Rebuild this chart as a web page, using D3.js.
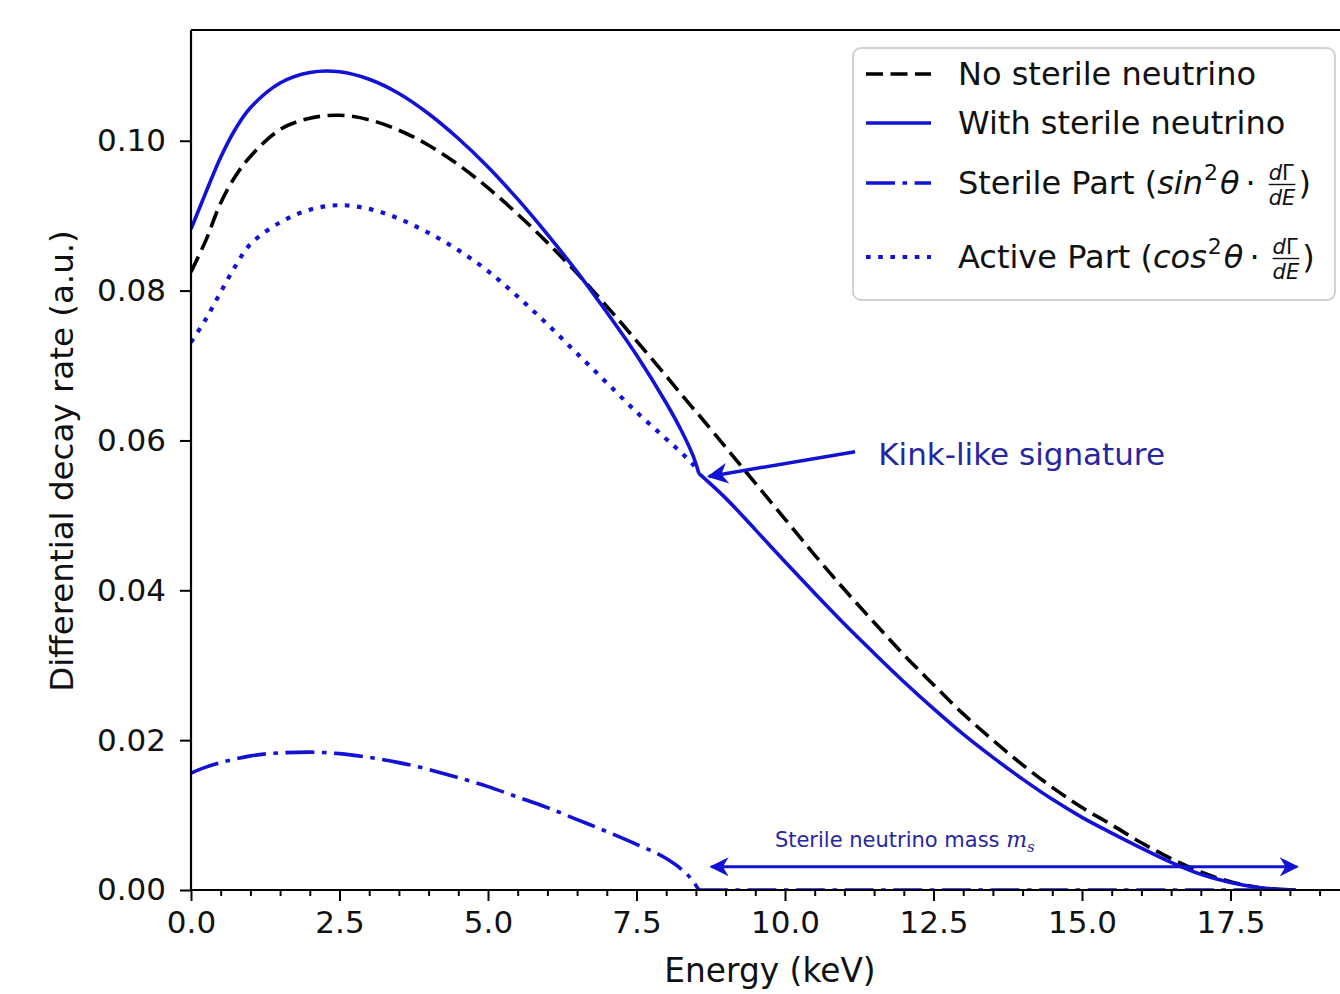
<!DOCTYPE html>
<html>
<head>
<meta charset="utf-8">
<script src="https://cdn.jsdelivr.net/npm/d3@7"></script>
<style>
  html, body { margin: 0; padding: 0; background: #fff; }
  svg { display: block; }
  text { font-family: "DejaVu Sans", sans-serif; }
</style>
</head>
<body>
<svg id="chart" width="1340" height="994"></svg>
<script>
// ---------- data ----------
const energy = [0, 0.25, 0.5, 0.75, 1, 1.5, 2, 2.5, 3, 3.5, 4, 4.5, 5, 5.5, 6, 6.5, 7, 7.5, 8,
  8.25, 8.45, 8.55, 9, 9.5, 10, 10.5, 11, 11.5, 12, 12.5, 13, 13.5, 14, 14.5, 15, 15.5, 16,
  16.5, 17, 17.5, 18, 18.3, 18.6];

const kinkEnergy = 8.55;

const noSterile = [0.0825, 0.0867, 0.0917, 0.0953, 0.0979, 0.1015, 0.1030, 0.1034, 0.1028, 0.1014,
  0.0994, 0.0968, 0.0937, 0.0902, 0.0864, 0.0823, 0.0779, 0.0733, 0.0686,
  0.0662, 0.0643, 0.0634, 0.0591, 0.0543, 0.0495, 0.0447, 0.0401, 0.0357, 0.0314, 0.0274,
  0.0235, 0.0200, 0.0167, 0.0137, 0.0110, 0.0087, 0.0063, 0.0042, 0.0024, 0.0011, 0.0003,
  0.0001, 0.0000];

const withSterile = [0.0882, 0.0931, 0.0978, 0.1016, 0.1044, 0.1077, 0.1091, 0.1092, 0.1082, 0.1063,
  0.1036, 0.1003, 0.0965, 0.0922, 0.0875, 0.0825, 0.0771, 0.0714, 0.0650,
  0.0614, 0.0580, 0.0556, 0.0523, 0.0481, 0.0438, 0.0396, 0.0355, 0.0316, 0.0278, 0.0242,
  0.0208, 0.0177, 0.0148, 0.0121, 0.0097, 0.0076, 0.0056, 0.0037, 0.0021, 0.0010, 0.0003,
  0.0001, 0.0000];

const activePart = [0.0731, 0.0762, 0.0798, 0.0833, 0.0862, 0.0891, 0.0908, 0.0914, 0.0909, 0.0896,
  0.0877, 0.0854, 0.0826, 0.0792, 0.0755, 0.0716, 0.0677, 0.0638, 0.0602,
  0.0584, 0.0568, 0.0558, null, null, null, null, null, null, null, null,
  null, null, null, null, null, null, null, null, null, null, null, null, null];

const sterilePart = [0.0156, 0.0164, 0.0170, 0.0175, 0.0179, 0.0183, 0.0184, 0.0182, 0.0177, 0.0170,
  0.0161, 0.0150, 0.0138, 0.0124, 0.0110, 0.0094, 0.0078, 0.0061, 0.0042,
  0.0028, 0.0012, 0.0000, 0, 0, 0, 0, 0, 0, 0, 0,
  0, 0, 0, 0, 0, 0, 0, 0, 0, 0, 0, 0, 0];

const xMajorTicks = [0, 2.5, 5, 7.5, 10, 12.5, 15, 17.5];
const xMinorTicks = d3.range(0, 19.51, 0.5);
const yTicks = [0, 0.02, 0.04, 0.06, 0.08, 0.10];
const xTickLabels = ["0.0", "2.5", "5.0", "7.5", "10.0", "12.5", "15.0", "17.5"];
const yTickLabels = ["0.00", "0.02", "0.04", "0.06", "0.08", "0.10"];

const xTitle = "Energy (keV)";
const yTitle = "Differential decay rate (a.u.)";

// ---------- layout ----------
const svg = d3.select("#chart");
const plotLeft = 191, plotTop = 30, plotBottom = 890;
const pxPerKeV = 59.4;
const xMax = 19.6;
const x = d3.scaleLinear().domain([0, xMax]).range([plotLeft, plotLeft + xMax * pxPerKeV]);
const y = d3.scaleLinear().domain([0, 0.11478]).range([plotBottom, plotTop]);

const BLUE = "#1212d4";
const ANN = "#2626a0";
const LW = 3.6;

const defs = svg.append("defs");
defs.append("clipPath").attr("id", "plotclip")
  .append("rect").attr("x", plotLeft).attr("y", plotTop).attr("width", x(xMax) - plotLeft).attr("height", plotBottom - plotTop);

const rows = energy.map((e, i) => ({e, ns: noSterile[i], ws: withSterile[i], ap: activePart[i], sp: sterilePart[i]}));
const before = rows.filter(d => d.e <= kinkEnergy);
const after = rows.filter(d => d.e >= kinkEnergy);

function mkLine(key, curve) {
  return d3.line().defined(d => d[key] !== null)
    .x(d => x(d.e)).y(d => y(d[key])).curve(curve || d3.curveCatmullRom.alpha(0.5));
}

const plot = svg.append("g").attr("clip-path", "url(#plotclip)");

function drawSeries(key, style, segments) {
  const p = plot.append("path")
    .attr("d", segments.map(s => mkLine(key, s.curve)(s.data)).join(""))
    .attr("fill", "none").attr("stroke", style.color).attr("stroke-width", style.w);
  if (style.dash) p.attr("stroke-dasharray", style.dash);
}

drawSeries("ns", {color: "#000", w: LW, dash: "17,7.5"}, [{data: rows}]);
drawSeries("ws", {color: BLUE, w: LW}, [{data: before}, {data: after}]);
drawSeries("sp", {color: BLUE, w: LW, dash: "29,7.5,4.6,7.5"},
  [{data: before, curve: d3.curveMonotoneX}, {data: after, curve: d3.curveLinear}]);
drawSeries("ap", {color: BLUE, w: LW + 0.6, dash: "4.6,7.6"}, [{data: before}]);

// ---------- axes ----------
const xAxis = d3.axisBottom(x).tickValues(xMajorTicks)
  .tickFormat((d, i) => xTickLabels[i]).tickSize(11).tickPadding(10);
const gx = svg.append("g").attr("transform", `translate(0,${plotBottom})`).call(xAxis);
const xMinor = d3.axisBottom(x).tickValues(xMinorTicks.filter(v => !xMajorTicks.includes(v)))
  .tickFormat("").tickSize(6);
const gxm = svg.append("g").attr("transform", `translate(0,${plotBottom})`).call(xMinor);

const yAxis = d3.axisLeft(y).tickValues(yTicks)
  .tickFormat((d, i) => yTickLabels[i]).tickSize(11).tickPadding(14);
const gy = svg.append("g").attr("transform", `translate(${plotLeft},0)`).call(yAxis);

[gx, gxm, gy].forEach(g => {
  g.select(".domain").remove();
  g.selectAll(".tick line").attr("stroke", "#000").attr("stroke-width", 2);
  g.selectAll(".tick text").attr("font-size", 31).attr("fill", "#111")
    .attr("font-family", "DejaVu Sans");
});

// spines
svg.append("line").attr("x1", plotLeft).attr("x2", 1340).attr("y1", plotBottom).attr("y2", plotBottom)
  .attr("stroke", "#000").attr("stroke-width", 2.2);
svg.append("line").attr("x1", plotLeft).attr("x2", plotLeft).attr("y1", plotTop).attr("y2", plotBottom)
  .attr("stroke", "#000").attr("stroke-width", 2.2);
svg.append("line").attr("x1", plotLeft).attr("x2", 1340).attr("y1", plotTop).attr("y2", plotTop)
  .attr("stroke", "#000").attr("stroke-width", 2.2);

// axis titles
svg.append("text").attr("x", 770).attr("y", 982).attr("text-anchor", "middle")
  .attr("font-size", 32.8).attr("fill", "#111").text(xTitle);
svg.append("text").attr("transform", "translate(73,461) rotate(-90)").attr("text-anchor", "middle")
  .attr("font-size", 32.5).attr("fill", "#111").text(yTitle);

// ---------- annotations ----------
defs.append("marker").attr("id", "ah").attr("viewBox", "0 0 10 10").attr("refX", 9).attr("refY", 5)
  .attr("markerWidth", 7).attr("markerHeight", 6).attr("markerUnits", "strokeWidth").attr("orient", "auto-start-reverse")
  .append("path").attr("d", "M0,0 L10,5 L0,10 L3,5 Z").attr("fill", BLUE);

svg.append("line")
  .attr("x1", x(11.18)).attr("y1", y(0.0585))
  .attr("x2", x(8.72)).attr("y2", y(0.0552))
  .attr("stroke", BLUE).attr("stroke-width", 3.5).attr("marker-end", "url(#ah)");
svg.append("text").attr("x", x(11.57)).attr("y", y(0.0567))
  .attr("font-family", "Lato, 'Open Sans', sans-serif").attr("font-size", 31).attr("fill", ANN)
  .text("Kink-like signature");

svg.append("line")
  .attr("x1", x(8.76)).attr("y1", y(0.0031))
  .attr("x2", x(18.62)).attr("y2", y(0.0031))
  .attr("stroke", BLUE).attr("stroke-width", 3.2)
  .attr("marker-start", "url(#ah)").attr("marker-end", "url(#ah)");
const msT = svg.append("text").attr("x", x(9.83)).attr("y", y(0.0057))
  .attr("font-family", "Lato, 'Open Sans', sans-serif").attr("font-size", 21).attr("fill", ANN);
msT.append("tspan").text("Sterile neutrino mass ");
msT.append("tspan").attr("font-family", "'DejaVu Serif', serif").attr("font-style", "italic").attr("font-size", 22).text("m");
msT.append("tspan").attr("font-family", "'DejaVu Serif', serif").attr("font-style", "italic").attr("font-size", 15).attr("dy", 5).text("s");

// ---------- legend ----------
const lg = svg.append("g");
lg.append("rect").attr("x", 853).attr("y", 48).attr("width", 482).attr("height", 252)
  .attr("rx", 8).attr("fill", "#fff").attr("fill-opacity", 0.9)
  .attr("stroke", "#d2d2d2").attr("stroke-width", 2);

const legendItems = [
  {label: "No sterile neutrino", color: "#000", dash: "17,7.5", w: LW, yc: 74},
  {label: "With sterile neutrino", color: BLUE, dash: null, w: LW, yc: 123},
  {label: "Sterile Part (", fn: "sin", color: BLUE, dash: "29,7.5,4.6,7.5", w: LW, yc: 183},
  {label: "Active Part (", fn: "cos", color: BLUE, dash: "4.6,7.6", w: LW + 0.6, yc: 257}
];

legendItems.forEach(it => {
  lg.append("line").attr("x1", 866).attr("x2", 931).attr("y1", it.yc).attr("y2", it.yc)
    .attr("stroke", it.color).attr("stroke-width", it.w)
    .attr("stroke-dasharray", it.dash);
  const fs = 32;
  const t = lg.append("text").attr("x", 958).attr("y", it.yc + 11).attr("font-size", fs).attr("fill", "#111");
  t.append("tspan").text(it.label);
  if (it.fn) {
    t.append("tspan").attr("font-style", "italic").text(it.fn);
    t.append("tspan").attr("font-size", 22).attr("dy", -14).attr("dx", 1).text("2");
    t.append("tspan").attr("font-style", "italic").attr("dy", 14).attr("dx", 2).text("θ");
    t.append("tspan").attr("dx", 6).text("·");
    const bb = t.node().getBBox();
    const fx = bb.x + bb.width + 13;
    const num = lg.append("text").attr("x", fx).attr("y", it.yc - 3).attr("font-size", 21).attr("fill", "#111");
    num.append("tspan").attr("font-style", "italic").text("d");
    num.append("tspan").text("Γ");
    const den = lg.append("text").attr("x", fx).attr("y", it.yc + 22).attr("font-size", 21)
      .attr("font-style", "italic").attr("fill", "#111").text("dE");
    const fw = Math.max(num.node().getComputedTextLength(), den.node().getComputedTextLength());
    lg.append("line").attr("x1", fx).attr("x2", fx + fw).attr("y1", it.yc + 1.5).attr("y2", it.yc + 1.5)
      .attr("stroke", "#111").attr("stroke-width", 1.4);
    lg.append("text").attr("x", fx + fw + 3).attr("y", it.yc + 11).attr("font-size", fs).attr("fill", "#111").text(")");
  }
});
</script>
</body>
</html>
